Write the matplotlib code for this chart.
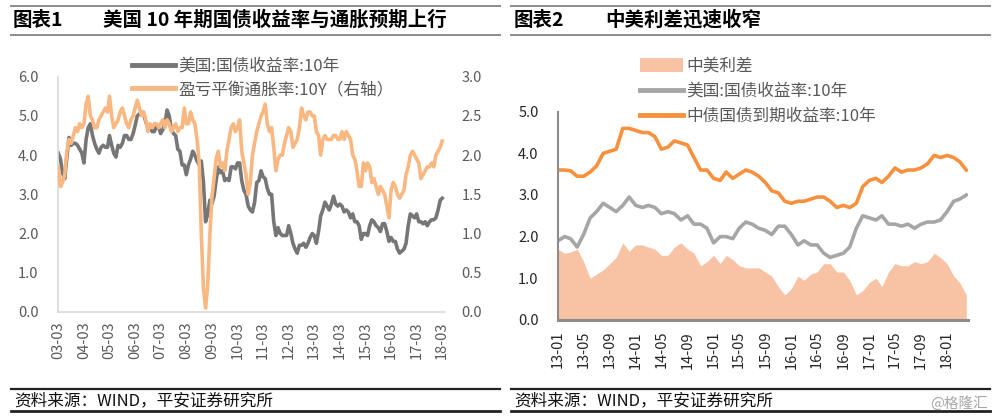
import matplotlib
matplotlib.use("Agg")
import matplotlib.pyplot as plt
import matplotlib.dates as mdates
import numpy as np
import pandas as pd
from matplotlib.lines import Line2D
from matplotlib.patches import Patch

plt.rcParams["font.family"] = ["Noto Sans CJK SC", "DejaVu Sans"]

# ---- 图表1: 美国10年期国债收益率 vs 盈亏平衡通胀率 (月度, 2003-03 ~ 2018-03)
us10y_long = [
    4.05, 3.9, 3.55, 3.4, 3.95, 4.45, 4.25, 4.3, 4.3, 4.25,
    4.15, 4.05, 3.8, 4.4, 4.7, 4.8, 4.5, 4.3, 4.15, 4.05, 4.2, 4.25,
    4.2, 4.2, 4.5, 4.25, 4.05, 3.95, 4.25, 4.2, 4.3, 4.5, 4.5, 4.4,
    4.4, 4.55, 4.75, 5.0, 5.05, 5.1, 5.05, 4.85, 4.7, 4.7, 4.6, 4.6,
    4.75, 4.7, 4.55, 4.65, 4.8, 5.15, 5.0, 4.65, 4.55, 4.5, 4.15, 4.1,
    3.75, 3.75, 3.5, 3.75, 3.9, 4.1, 4.0, 3.85, 3.75, 3.85, 3.3, 2.3,
    2.5, 2.85, 2.75, 2.95, 3.35, 3.7, 3.55, 3.6, 3.35, 3.4, 3.35, 3.7,
    3.7, 3.65, 3.8, 3.8, 3.35, 3.1, 3.0, 2.7, 2.6, 2.55, 2.8, 3.3,
    3.35, 3.6, 3.45, 3.4, 3.15, 3.0, 3.0, 2.3, 1.95, 2.15, 2.0, 1.95,
    1.95, 1.95, 2.2, 2.0, 1.75, 1.6, 1.5, 1.7, 1.7, 1.75, 1.65, 1.75,
    1.9, 2.0, 1.95, 1.75, 2.05, 2.45, 2.6, 2.8, 2.7, 2.6, 2.75, 2.95,
    2.75, 2.7, 2.75, 2.7, 2.55, 2.6, 2.55, 2.4, 2.5, 2.3, 2.3, 2.2,
    1.85, 2.0, 2.0, 1.95, 2.2, 2.35, 2.3, 2.2, 2.15, 2.05, 2.25, 2.25,
    2.05, 1.8, 1.9, 1.8, 1.8, 1.6, 1.5, 1.55, 1.6, 1.75, 2.2, 2.5,
    2.45, 2.4, 2.5, 2.3, 2.3, 2.25, 2.3, 2.2, 2.3, 2.35, 2.35, 2.4,
    2.6, 2.85, 2.9,
]
breakeven_10y = [
    1.85, 1.6, 1.65, 1.75, 2.05, 2.2, 2.15, 2.25, 2.35, 2.3,
    2.4, 2.35, 2.4, 2.65, 2.75, 2.5, 2.45, 2.35, 2.35, 2.45, 2.5, 2.55,
    2.6, 2.55, 2.75, 2.5, 2.35, 2.4, 2.45, 2.55, 2.6, 2.5, 2.4, 2.35,
    2.45, 2.5, 2.6, 2.7, 2.6, 2.5, 2.55, 2.45, 2.3, 2.4, 2.35, 2.4,
    2.4, 2.35, 2.4, 2.45, 2.35, 2.45, 2.4, 2.3, 2.35, 2.4, 2.3, 2.35,
    2.35, 2.6, 2.4, 2.4, 2.55, 2.45, 2.4, 2.2, 1.9, 1.0, 0.3, 0.05,
    0.35, 1.0, 1.45, 1.7, 1.95, 2.05, 1.85, 1.9, 1.8, 2.05, 2.2, 2.35,
    2.4, 2.3, 2.35, 2.45, 2.05, 1.9, 1.75, 1.5, 1.65, 2.0, 2.15, 2.3,
    2.4, 2.5, 2.55, 2.65, 2.4, 2.3, 2.35, 2.1, 1.8, 1.95, 2.0, 2.0,
    2.15, 2.25, 2.35, 2.3, 2.1, 2.15, 2.2, 2.35, 2.6, 2.5, 2.45, 2.55,
    2.55, 2.5, 2.5, 2.3, 2.25, 2.0, 2.2, 2.25, 2.2, 2.2, 2.2, 2.25,
    2.25, 2.2, 2.2, 2.3, 2.2, 2.3, 2.25, 2.2, 2.0, 1.95, 1.8, 1.6,
    1.6, 1.9, 1.8, 1.9, 1.85, 1.65, 1.7, 1.6, 1.5, 1.6, 1.55, 1.5,
    1.35, 1.2, 1.55, 1.65, 1.6, 1.5, 1.45, 1.5, 1.55, 1.75, 1.85, 2.0,
    2.05, 2.0, 1.95, 1.9, 1.7, 1.75, 1.8, 1.85, 1.85, 1.9, 1.85, 2.0,
    2.05, 2.1, 2.18,
]
dates_long = pd.date_range("2003-03-01", periods=len(us10y_long), freq="MS")
ticks_long = pd.date_range("2003-03-01", "2018-03-01", freq="12MS")

# ---- 图表2: 中美利差 (月度, 2013-01 ~ 2018-04)
cn10y = [
    3.6, 3.6, 3.58, 3.45, 3.45, 3.55, 3.7, 4.0, 4.05, 4.1, 4.6, 4.6,
    4.55, 4.5, 4.5, 4.4, 4.1, 4.15, 4.3, 4.25, 4.2, 3.9, 3.6, 3.6,
    3.4, 3.35, 3.55, 3.4, 3.5, 3.6, 3.55, 3.45, 3.3, 3.1, 3.05, 2.85,
    2.8, 2.85, 2.85, 2.9, 2.95, 2.95, 2.85, 2.7, 2.75, 2.7, 2.8, 3.2,
    3.35, 3.4, 3.3, 3.45, 3.65, 3.55, 3.6, 3.6, 3.65, 3.75, 3.95, 3.9,
    3.95, 3.9, 3.8, 3.6,
]
us10y_short = [
    1.9, 2.0, 1.95, 1.75, 2.05, 2.45, 2.6, 2.8, 2.7, 2.6, 2.75, 2.95,
    2.75, 2.7, 2.75, 2.7, 2.55, 2.6, 2.55, 2.4, 2.5, 2.3, 2.3, 2.2,
    1.85, 2.0, 2.0, 1.95, 2.2, 2.35, 2.3, 2.2, 2.15, 2.05, 2.25, 2.25,
    2.05, 1.8, 1.9, 1.8, 1.8, 1.6, 1.5, 1.55, 1.6, 1.75, 2.2, 2.5,
    2.45, 2.4, 2.5, 2.3, 2.3, 2.25, 2.3, 2.2, 2.3, 2.35, 2.35, 2.4,
    2.6, 2.85, 2.9, 3.0,
]
spread = [
    1.7, 1.6, 1.63, 1.7, 1.4, 1.0, 1.1, 1.2, 1.35, 1.5, 1.85, 1.65,
    1.8, 1.8, 1.75, 1.7, 1.55, 1.55, 1.75, 1.85, 1.7, 1.6, 1.3, 1.4,
    1.55, 1.35, 1.55, 1.45, 1.3, 1.25, 1.25, 1.25, 1.15, 1.05, 0.8, 0.6,
    0.75, 1.05, 0.95, 1.1, 1.15, 1.35, 1.35, 1.15, 1.15, 0.95, 0.6, 0.7,
    0.9, 1.0, 0.8, 1.15, 1.35, 1.3, 1.3, 1.4, 1.35, 1.4, 1.6, 1.5,
    1.35, 1.05, 0.9, 0.6,
]
dates_short = pd.date_range("2013-01-01", periods=len(cn10y), freq="MS")
ticks_short = pd.date_range("2013-01-01", "2018-01-01", freq="4MS")

TICK_COLOR = "#595959"
TEXT_COLOR = "#595959"

fig = plt.figure(figsize=(10.0, 4.17), dpi=100)

# ---------------- left chart
ax1 = fig.add_axes([0.058, 0.252, 0.387, 0.564])
ax1.plot(dates_long, us10y_long, color="#767676", linewidth=2.6)
ax1.set_ylim(0, 6)
ax1.set_yticks(np.arange(0, 6.1, 1.0))
ax1.set_yticklabels([f"{v:.1f}" for v in np.arange(0, 6.1, 1.0)])
ax1.set_xlim(pd.Timestamp("2003-02-25"), pd.Timestamp("2018-04-10"))
ax1.set_xticks(ticks_long)
ax1.xaxis.set_major_formatter(mdates.DateFormatter("%y-%m"))
for s in ("top", "right"):
    ax1.spines[s].set_visible(False)
for s in ("left", "bottom"):
    ax1.spines[s].set_color("#D9D9D9")
    ax1.spines[s].set_linewidth(1.2)

ax1b = ax1.twinx()
ax1b.plot(dates_long, breakeven_10y, color="#F9B882", linewidth=2.6)
ax1b.set_ylim(0, 3)
ax1b.set_yticks(np.arange(0, 3.01, 0.5))
ax1b.set_yticklabels([f"{v:.1f}" for v in np.arange(0, 3.01, 0.5)])
for s in ("top", "right", "left", "bottom"):
    ax1b.spines[s].set_visible(False)

for ax in (ax1, ax1b):
    ax.tick_params(axis="both", length=0, labelsize=10.5, labelcolor=TICK_COLOR)
ax1.tick_params(axis="y", pad=14)
ax1b.tick_params(axis="y", pad=12)
ax1.tick_params(axis="x", rotation=90, pad=7)

h1 = [Line2D([], [], color="#767676", linewidth=3.5),
      Line2D([], [], color="#F9B882", linewidth=3.5)]
ax1.legend(h1, ["美国:国债收益率:10年", "盈亏平衡通胀率:10Y（右轴）"],
           loc="upper left", bbox_to_anchor=(0.132, 0.862), bbox_transform=fig.transFigure,
           frameon=False, fontsize=12, handlelength=2.6, handletextpad=0.2,
           labelspacing=0.4, borderaxespad=0, borderpad=0, labelcolor=TEXT_COLOR)

# ---------------- right chart
ax2 = fig.add_axes([0.558, 0.233, 0.41, 0.499])
ax2.fill_between(dates_short, 0, spread, color="#F8C3A5", linewidth=0)
ax2.plot(dates_short, us10y_short, color="#A6A6A6", linewidth=2.6)
ax2.plot(dates_short, cn10y, color="#F7913D", linewidth=2.6)
ax2.set_ylim(0, 5)
ax2.set_yticks(np.arange(0, 5.1, 1.0))
ax2.set_yticklabels([f"{v:.1f}" for v in np.arange(0, 5.1, 1.0)])
ax2.set_xlim(dates_short[0], dates_short[-1] + pd.Timedelta(days=8))
ax2.set_xticks(ticks_short)
ax2.xaxis.set_major_formatter(mdates.DateFormatter("%y-%m"))
for s in ("top", "right"):
    ax2.spines[s].set_visible(False)
for s in ("left", "bottom"):
    ax2.spines[s].set_color("#8C8C8C")
ax2.spines["left"].set_linewidth(1.5)
ax2.spines["bottom"].set_linewidth(2.2)
ax2.tick_params(axis="both", length=0, labelsize=10.5, labelcolor="#262626")
ax2.tick_params(axis="y", pad=14)
ax2.tick_params(axis="x", rotation=90, pad=8)

h2 = [Patch(facecolor="#F8C3A5", edgecolor="none"),
      Line2D([], [], color="#A6A6A6", linewidth=3.5),
      Line2D([], [], color="#F7913D", linewidth=3.5)]
ax2.legend(h2, ["中美利差", "美国:国债收益率:10年", "中债国债到期收益率:10年"],
           loc="upper left", bbox_to_anchor=(0.640, 0.862), bbox_transform=fig.transFigure,
           frameon=False, fontsize=12, handlelength=2.6, handleheight=0.9, handletextpad=0.2,
           labelspacing=0.5, borderaxespad=0, borderpad=0, labelcolor=TEXT_COLOR)

# ---------------- headers and footers
H = 417.0


def fy(py):
    return 1 - py / H


for x0, x1 in ((0.011, 0.500), (0.511, 0.990)):
    fig.add_artist(Line2D([x0, x1], [fy(6), fy(6)], color="#8C8C8C", linewidth=1.4))
    fig.add_artist(Line2D([x0, x1], [fy(35), fy(35)], color="#8C8C8C", linewidth=1.4))
    fig.add_artist(Line2D([x0, x1], [fy(389), fy(389)], color="#222222", linewidth=1.6))
    fig.add_artist(Line2D([x0, x1], [fy(411), fy(411)], color="#222222", linewidth=2.0))
    fig.text(x0 + 0.003, fy(401), "资料来源：WIND，平安证券研究所", fontsize=12,
             style="italic", color="#111111", va="center", ha="left")

fig.text(0.013, fy(20), "图表1", fontsize=14, fontweight="bold", va="center", ha="left")
fig.text(0.103, fy(20), "美国 10 年期国债收益率与通胀预期上行", fontsize=14,
         fontweight="bold", va="center", ha="left")
fig.text(0.514, fy(20), "图表2", fontsize=14, fontweight="bold", va="center", ha="left")
fig.text(0.605, fy(20), "中美利差迅速收窄", fontsize=14, fontweight="bold",
         va="center", ha="left")
fig.text(0.988, fy(403), "@格隆汇", fontsize=10.5, color="#A6A6A6", va="center", ha="right")

fig.savefig("out.png", dpi=100)
